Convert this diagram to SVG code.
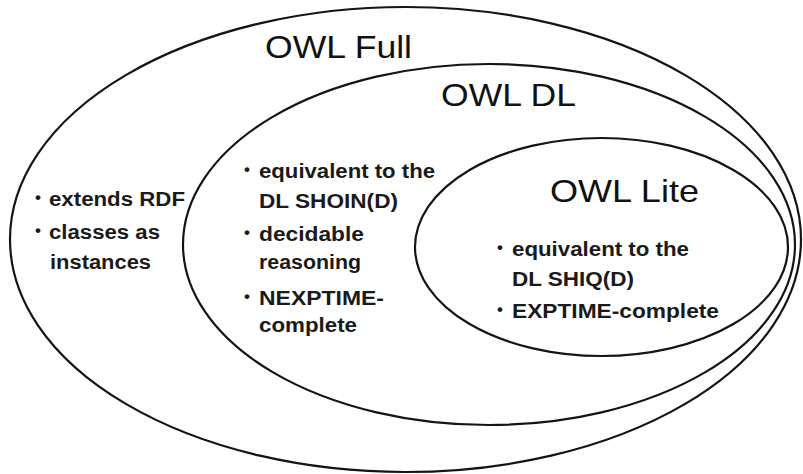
<svg xmlns="http://www.w3.org/2000/svg" width="803" height="474" viewBox="0 0 803 474">
  <style>
    .ring { fill: none; stroke: #141414; stroke-width: 2.2; }
    .title { font-family: "Liberation Sans", Arial, sans-serif; font-size: 32px; fill: #111; }
    .body { font-family: "Liberation Sans", Arial, sans-serif; font-size: 20px; font-weight: bold; fill: #1a1a1a; }
    .bul { font-family: "Liberation Sans", Arial, sans-serif; font-size: 17px; font-weight: bold; fill: #1a1a1a; }
  </style>
  <rect width="803" height="474" fill="#ffffff"/>
  <g id="owl-full">
    <ellipse class="ring" cx="405.5" cy="239.5" rx="395.5" ry="232.5"/>
    <text class="title" x="265" y="58" textLength="147" lengthAdjust="spacingAndGlyphs">OWL Full</text>
    <text class="bul" x="35" y="203">•</text>
    <text class="body" x="49" y="206" textLength="136" lengthAdjust="spacingAndGlyphs">extends RDF</text>
    <text class="bul" x="35" y="236">•</text>
    <text class="body" x="49" y="239" textLength="111" lengthAdjust="spacingAndGlyphs">classes as</text>
    <text class="body" x="50" y="269" textLength="101" lengthAdjust="spacingAndGlyphs">instances</text>
  </g>
  <g id="owl-dl">
    <ellipse class="ring" cx="489" cy="244.5" rx="306" ry="180.5"/>
    <text class="title" x="441" y="106" textLength="135" lengthAdjust="spacingAndGlyphs">OWL DL</text>
    <text class="bul" x="244" y="175">•</text>
    <text class="body" x="259" y="178" textLength="176" lengthAdjust="spacingAndGlyphs">equivalent to the</text>
    <text class="body" x="259" y="208" textLength="139" lengthAdjust="spacingAndGlyphs">DL SHOIN(D)</text>
    <text class="bul" x="244" y="238">•</text>
    <text class="body" x="259" y="241" textLength="105" lengthAdjust="spacingAndGlyphs">decidable</text>
    <text class="body" x="259" y="269" textLength="102" lengthAdjust="spacingAndGlyphs">reasoning</text>
    <text class="bul" x="244" y="302">•</text>
    <text class="body" x="259" y="305" textLength="125" lengthAdjust="spacingAndGlyphs">NEXPTIME-</text>
    <text class="body" x="259" y="332" textLength="98" lengthAdjust="spacingAndGlyphs">complete</text>
  </g>
  <g id="owl-lite">
    <ellipse class="ring" cx="601.5" cy="247" rx="186.5" ry="109"/>
    <text class="title" x="550" y="202" textLength="149" lengthAdjust="spacingAndGlyphs">OWL Lite</text>
    <text class="bul" x="497" y="253">•</text>
    <text class="body" x="512" y="256" textLength="177" lengthAdjust="spacingAndGlyphs">equivalent to the</text>
    <text class="body" x="512" y="286" textLength="122" lengthAdjust="spacingAndGlyphs">DL SHIQ(D)</text>
    <text class="bul" x="497" y="315">•</text>
    <text class="body" x="512" y="318" textLength="207" lengthAdjust="spacingAndGlyphs">EXPTIME-complete</text>
  </g>
</svg>
